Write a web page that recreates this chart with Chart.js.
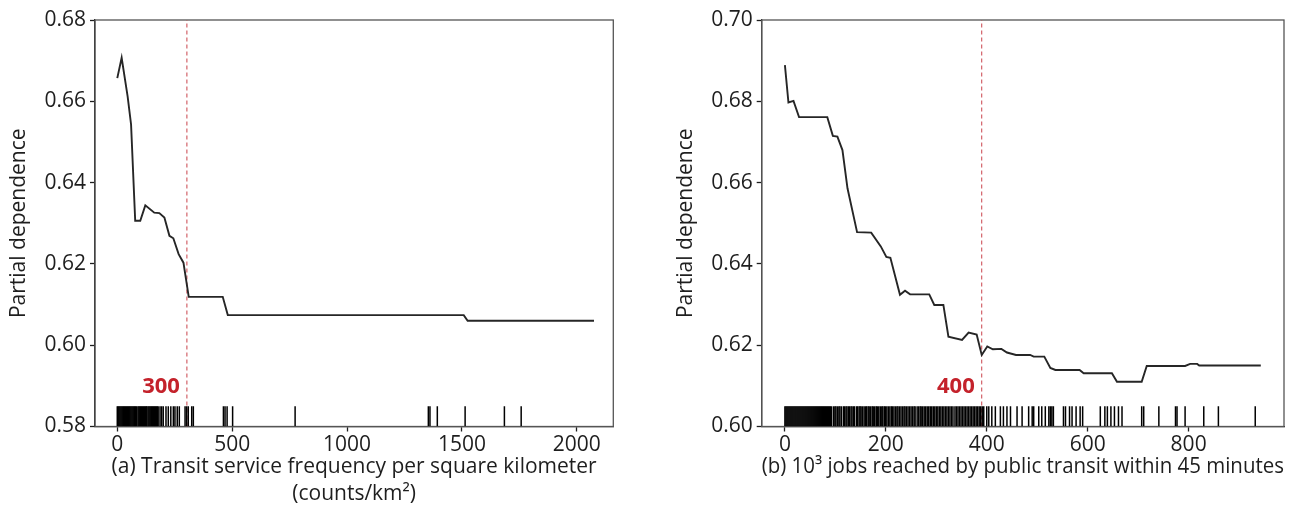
<!DOCTYPE html>
<html>
<head>
<meta charset="utf-8">
<script src="https://cdn.jsdelivr.net/npm/chart.js@4.4.0/dist/chart.umd.min.js"></script>
<style>
  body { margin: 0; background: #fff; }
  .panel { position: absolute; top: 0; height: 526px; }
  #panelA { left: 0; width: 640px; }
  #panelB { left: 650px; width: 655px; }
</style>
</head>
<body>
<div class="panel" id="panelA"><canvas id="chartA"></canvas></div>
<div class="panel" id="panelB"><canvas id="chartB"></canvas></div>
<script>
// (a) transit service frequency
const curveAX = [0, 19, 45, 60, 78, 100, 122, 161, 183, 205, 227, 244, 267, 288, 311, 459, 481, 1508, 1525, 2075];
const curveAY = [0.6657, 0.6707, 0.6612, 0.6543, 0.6306, 0.6306, 0.6344, 0.6326, 0.6325, 0.6314, 0.6269, 0.6263,
                 0.6224, 0.6203, 0.6119, 0.6119, 0.6074, 0.6074, 0.6060, 0.6060];
const rugA = [0, 4, 8, 12, 16, 20, 24, 28, 32, 36, 40, 44, 48, 52, 56, 60, 64, 68, 72, 76, 80, 84,
              90, 94, 98, 102, 106, 110, 114, 118, 122, 126, 129,
              134, 138, 142, 146, 150, 154, 158, 162, 166, 170, 174, 178,
              186, 193, 200, 212, 222, 233, 244, 251, 261, 270, 295, 302, 309, 324, 331,
              462, 469, 478, 502, 774, 1354, 1361, 1393, 1514, 1685, 1758];
const xTicksA = [0, 500, 1000, 1500, 2000];
const yTicksA = [0.58, 0.60, 0.62, 0.64, 0.66, 0.68];
const markA = 303;
const markLabelA = '300';

// (b) jobs reached by public transit
const curveBX = [0, 7, 17, 28, 84, 95, 104, 114, 124, 143, 171, 190, 201, 209, 228, 238, 248, 286, 296, 314,
                 324, 351, 364, 380, 390, 401, 412, 429, 440, 458, 486, 493, 514, 526, 536, 584, 592, 648, 658,
                 707, 717, 793, 803, 817, 821, 943];
const curveBY = [0.6889, 0.6797, 0.6801, 0.6761, 0.6761, 0.6715, 0.6713, 0.6680, 0.6586, 0.6478, 0.6477, 0.6443,
                 0.6417, 0.6415, 0.6324, 0.6334, 0.6325, 0.6325, 0.6299, 0.6299, 0.6221, 0.6213, 0.6231, 0.6226,
                 0.6176, 0.6197, 0.6190, 0.6191, 0.6182, 0.6176, 0.6176, 0.6172, 0.6172, 0.6144, 0.6139, 0.6139,
                 0.6131, 0.6131, 0.6110, 0.6110, 0.6149, 0.6149, 0.6154, 0.6154, 0.6150, 0.6150];
const rugB = [0, 2, 4, 6, 8, 10, 12, 14, 16, 18, 20, 22, 24, 26, 28, 30, 32, 34, 36, 38, 40, 42, 44, 46, 48,
              50, 52, 54, 56, 58, 60, 62, 64, 66, 68, 70, 72, 74, 76, 78, 80, 82, 84, 86, 88, 90, 92,
              96, 99, 101, 104, 107, 109, 112, 116, 118, 121, 123, 126, 128, 131, 133, 136, 138, 142, 144,
              147, 149, 151, 154, 157, 160, 162, 165, 167, 170, 173, 175, 178, 181, 183, 186, 189, 192, 194,
              197, 199, 202, 205, 208, 211, 213, 216, 219, 222, 224, 227, 230, 233, 236, 238, 241, 244, 247,
              250, 253, 256, 258, 262, 265, 268, 270, 273, 276, 279, 282, 285, 288, 291, 294, 297, 300, 303,
              306, 309, 312, 315, 318, 321, 324, 327, 330, 333, 337, 340, 343, 346, 349, 352, 355, 358, 361,
              364, 367, 370, 373, 376, 379, 382, 385, 388, 391, 394,
              400, 404, 410, 417, 427, 433, 440, 447, 460, 470, 483, 490, 493, 503, 509, 516, 523, 526, 529, 532,
              552, 556, 564, 569, 577, 585, 590, 625, 634, 639, 646, 653, 661, 668, 707, 711, 741, 774, 777,
              793, 830, 859, 932];
const xTicksB = [0, 200, 400, 600, 800];
const yTicksB = [0.60, 0.62, 0.64, 0.66, 0.68, 0.70];
const markB = 390;
const markLabelB = '400';

const FONT = "'Open Sans', 'DejaVu Sans', sans-serif";
const INK = '#1e1e1e';

// box around the plot area plus the red threshold label
const framePlugin = {
    id: 'frame',
    beforeDatasetsDraw(chart) {
        const a = chart.chartArea;
        const ctx = chart.ctx;
        ctx.save();
        ctx.strokeStyle = '#555';
        ctx.lineWidth = 1.3;
        ctx.strokeRect(a.left, a.top, a.right - a.left, a.bottom - a.top);
        ctx.restore();
    },
    afterDatasetsDraw(chart, args, opts) {
        const ctx = chart.ctx;
        const x = chart.scales.x.getPixelForValue(opts.markX);
        ctx.save();
        ctx.font = "bold 22px " + FONT;
        ctx.fillStyle = '#c4222b';
        ctx.textAlign = 'right';
        ctx.textBaseline = 'middle';
        ctx.fillText(opts.label, x - 7, chart.chartArea.bottom - 40);
        ctx.restore();
    }
};

function buildChart(id, p) {
    const ctx = document.getElementById(id).getContext('2d');
    new Chart(ctx, {
        type: 'line',
        data: {
            datasets: [{
                data: p.curveX.map((x, i) => ({ x: x, y: p.curveY[i] })),
                borderColor: '#262626',
                borderWidth: 1.9,
                pointRadius: 0,
                tension: 0
            }, {
                // rug ticks along the bottom axis
                data: p.rug.map(x => ({ x: x, y: p.rugY })),
                showLine: false,
                pointStyle: 'line',
                pointRotation: 90,
                pointRadius: 10,
                pointBorderColor: '#000',
                pointBorderWidth: 1.5
            }, {
                data: [{ x: p.markX, y: p.yTicks[0] }, { x: p.markX, y: p.yTicks[p.yTicks.length - 1] }],
                borderColor: '#c9424b',
                borderWidth: 1,
                borderDash: [4, 3],
                pointRadius: 0
            }]
        },
        options: {
            responsive: true,
            maintainAspectRatio: false,
            animation: false,
            layout: { padding: { left: p.padLeft, right: p.padRight, top: 20, bottom: 0 } },
            plugins: {
                legend: { display: false },
                tooltip: { enabled: false },
                frame: { markX: p.markX, label: p.markLabel }
            },
            scales: {
                x: {
                    type: 'linear',
                    min: p.xMin,
                    max: p.xMax,
                    afterBuildTicks: s => { s.ticks = p.xTicks.map(v => ({ value: v })); },
                    afterFit: s => { s.height = 99.5; },
                    grid: { drawOnChartArea: false, tickLength: 5, color: INK, tickWidth: 1.3 },
                    border: { color: INK, width: 1.3 },
                    ticks: {
                        font: { family: FONT, size: 21 },
                        color: INK,
                        padding: 1,
                        maxRotation: 0,
                        callback: v => String(v)
                    },
                    title: {
                        display: true,
                        text: p.caption,
                        font: { family: FONT, size: 21, lineHeight: 1.286 },
                        color: INK,
                        padding: { top: 0, bottom: p.captionPad }
                    }
                },
                y: {
                    min: p.yTicks[0],
                    max: p.yTicks[p.yTicks.length - 1],
                    afterBuildTicks: s => { s.ticks = p.yTicks.map(v => ({ value: v })); },
                    afterFit: s => { s.width = p.yWidth; },
                    grid: { drawOnChartArea: false, tickLength: 5, color: INK, tickWidth: 1.3 },
                    border: { color: INK, width: 1.3 },
                    ticks: {
                        font: { family: FONT, size: 21 },
                        color: INK,
                        padding: 4,
                        callback: v => v.toFixed(2)
                    },
                    title: {
                        display: true,
                        text: 'Partial dependence',
                        font: { family: FONT, size: 21 },
                        color: INK,
                        padding: { top: 3, bottom: 0 }
                    }
                }
            }
        },
        plugins: [framePlugin]
    });
}

buildChart('chartA', {
    curveX: curveAX, curveY: curveAY, rug: rugA, rugY: 0.5825,
    xTicks: xTicksA, yTicks: yTicksA, xMin: -97, xMax: 2159,
    markX: markA, markLabel: markLabelA,
    caption: ['(a) Transit service frequency per square kilometer', '(counts/km\u00B2)'],
    captionPad: 18.5, padLeft: 3, yWidth: 92, padRight: 26.7
});

buildChart('chartB', {
    curveX: curveBX, curveY: curveBY, rug: rugB, rugY: 0.6025,
    xTicks: xTicksB, yTicks: yTicksB, xMin: -46, xMax: 989,
    markX: markB, markLabel: markLabelB,
    caption: '(b) 10\u00B3 jobs reached by public transit within 45 minutes',
    captionPad: 45.5, padLeft: 20.6, yWidth: 91.1, padRight: 21
});
</script>
</body>
</html>
